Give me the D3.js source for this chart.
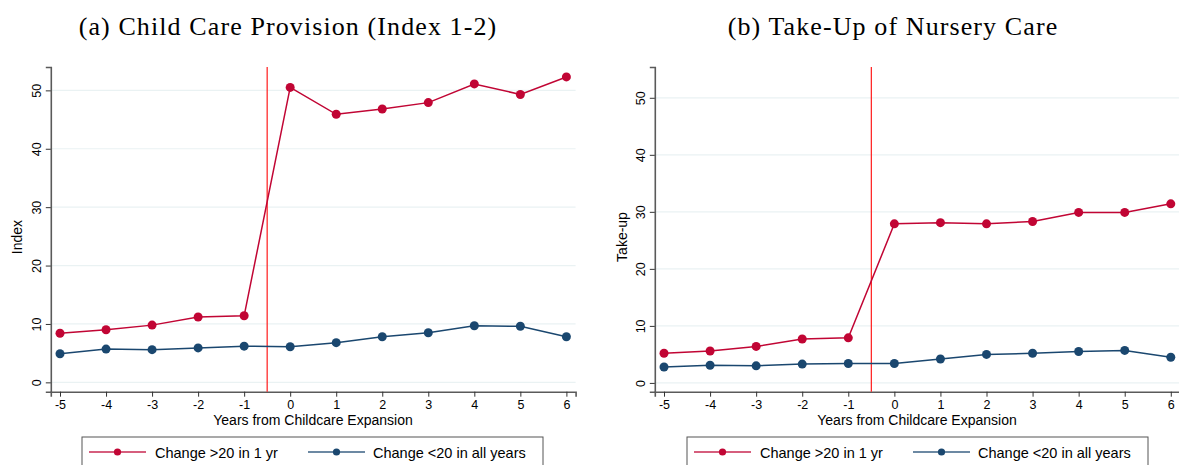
<!DOCTYPE html>
<meta charset="utf-8">
<script src="https://cdn.jsdelivr.net/npm/d3@7"></script>
<style>
body { margin: 0; background: #fff; }
text { font-family: "Liberation Sans", Arial, sans-serif; fill: #000; }
.title { font-family: "Liberation Serif", serif; font-size: 26px; letter-spacing: 1.1px; }
.tick text { font-size: 12.5px; }
.grid line { stroke: #eaf2f3; stroke-width: 1.2; }
</style>
<body>
<div id="p1"></div>
<script>
// data
var years = [-5, -4, -3, -2, -1, 0, 1, 2, 3, 4, 5, 6];
var provisionHigh = [8.4, 9.0, 9.8, 11.2, 11.4, 50.5, 45.9, 46.8, 47.9, 51.1, 49.3, 52.3];
var provisionLow  = [4.9, 5.7, 5.6, 5.9, 6.2, 6.1, 6.8, 7.8, 8.5, 9.7, 9.6, 7.8];
var takeupHigh = [5.2, 5.6, 6.4, 7.7, 7.9, 27.9, 28.1, 27.9, 28.3, 29.9, 29.9, 31.4];
var takeupLow  = [2.8, 3.1, 3.0, 3.3, 3.4, 3.4, 4.2, 5.0, 5.2, 5.5, 5.7, 4.5];
var yTicks = [0, 10, 20, 30, 40, 50];
var seriesNames = ["Change >20 in 1 yr", "Change <20 in all years"];
var red = "#c10534", navy = "#1a476f";

var svg = d3.select("#p1").append("svg")
  .attr("width", 1179).attr("height", 465);

function plain(d){ return String(d); }   // keep hyphen minus like Stata

function panel(opts){
  var g = svg.append("g");
  var x = d3.scaleLinear().domain([-5.2, 6.2]).range([opts.x0, opts.x1]);
  var y = d3.scaleLinear().domain(opts.ydom).range([391.7, 67]);

  // gridlines
  g.append("g").attr("class", "grid")
    .selectAll("line").data(yTicks).enter().append("line")
      .attr("x1", opts.x0).attr("x2", opts.x1)
      .attr("y1", function(d){ return y(d); })
      .attr("y2", function(d){ return y(d); });

  // axes
  var xa = g.append("g").attr("transform", "translate(0,391.7)")
    .call(d3.axisBottom(x).tickValues(years).tickFormat(plain).tickSize(5).tickPadding(3));
  var ya = g.append("g").attr("transform", "translate(" + opts.x0 + ",0)")
    .call(d3.axisLeft(y).tickValues(yTicks).tickFormat(plain).tickSize(5).tickPadding(3));
  [xa, ya].forEach(function(a){
    a.select(".domain").attr("stroke", "#5a5a5a").attr("stroke-width", 1.6);
    a.selectAll(".tick line").attr("stroke", "#333").attr("stroke-width", 1);
    a.selectAll(".tick text").attr("fill", "#000");
  });
  // rotated y labels, Stata style
  ya.selectAll(".tick text")
    .attr("text-anchor", "middle")
    .attr("transform", "rotate(-90)")
    .attr("x", 0).attr("dy", 0)
    .attr("y", -10);

  // vertical line at the expansion
  g.append("line")
    .attr("x1", x(-0.5)).attr("x2", x(-0.5))
    .attr("y1", 67).attr("y2", 391.7)
    .attr("stroke", "#ff1a1a").attr("stroke-width", 1.2);

  var line = d3.line()
    .x(function(d, i){ return x(years[i]); })
    .y(function(d){ return y(d); });

  [[opts.high, red], [opts.low, navy]].forEach(function(s){
    g.append("path").datum(s[0])
      .attr("d", line).attr("fill", "none")
      .attr("stroke", s[1]).attr("stroke-width", 1.5);
    g.selectAll(null).data(s[0]).enter().append("circle")
      .attr("cx", function(d, i){ return x(years[i]); })
      .attr("cy", function(d){ return y(d); })
      .attr("r", 4.5).attr("fill", s[1]);
  });

  // titles and labels
  g.append("text").attr("class", "title")
    .attr("x", opts.tx).attr("y", 35).attr("text-anchor", "middle")
    .text(opts.title);
  g.append("text")
    .attr("x", opts.lx).attr("y", 425).attr("text-anchor", "middle")
    .style("font-size", "14px")
    .text("Years from Childcare Expansion");
  g.append("text")
    .attr("transform", "translate(" + opts.yx + ",237) rotate(-90)")
    .attr("text-anchor", "middle")
    .style("font-size", "14px")
    .text(opts.ylab);

  // legend
  var lg = g.append("g").attr("transform", "translate(" + opts.legx + ",437)");
  lg.append("rect").attr("width", 461).attr("height", 40)
    .attr("fill", "#fff").attr("stroke", "#555").attr("stroke-width", 1);
  [[red, 7, 73], [navy, 226, 291]].forEach(function(it, i){
    lg.append("line").attr("x1", it[1]).attr("x2", it[1] + 57)
      .attr("y1", 15).attr("y2", 15)
      .attr("stroke", it[0]).attr("stroke-width", 1.4).attr("opacity", 0.85);
    lg.append("circle").attr("cx", it[1] + 28.5).attr("cy", 15).attr("r", 3.6)
      .attr("fill", it[0]);
    lg.append("text").attr("x", it[2]).attr("y", 20.5)
      .style("font-size", "14.5px").text(seriesNames[i]);
  });
}

panel({x0: 50.8, x1: 575.6, ydom: [-1.6, 54.0], high: provisionHigh, low: provisionLow,
  title: "(a) Child Care Provision (Index 1-2)", tx: 288, lx: 313, yx: 22, ylab: "Index", legx: 82});
panel({x0: 654.8, x1: 1180, ydom: [-1.54, 55.4], high: takeupHigh, low: takeupLow,
  title: "(b) Take-Up of Nursery Care", tx: 893, lx: 917, yx: 627, ylab: "Take-up", legx: 687});
</script>
</body>
